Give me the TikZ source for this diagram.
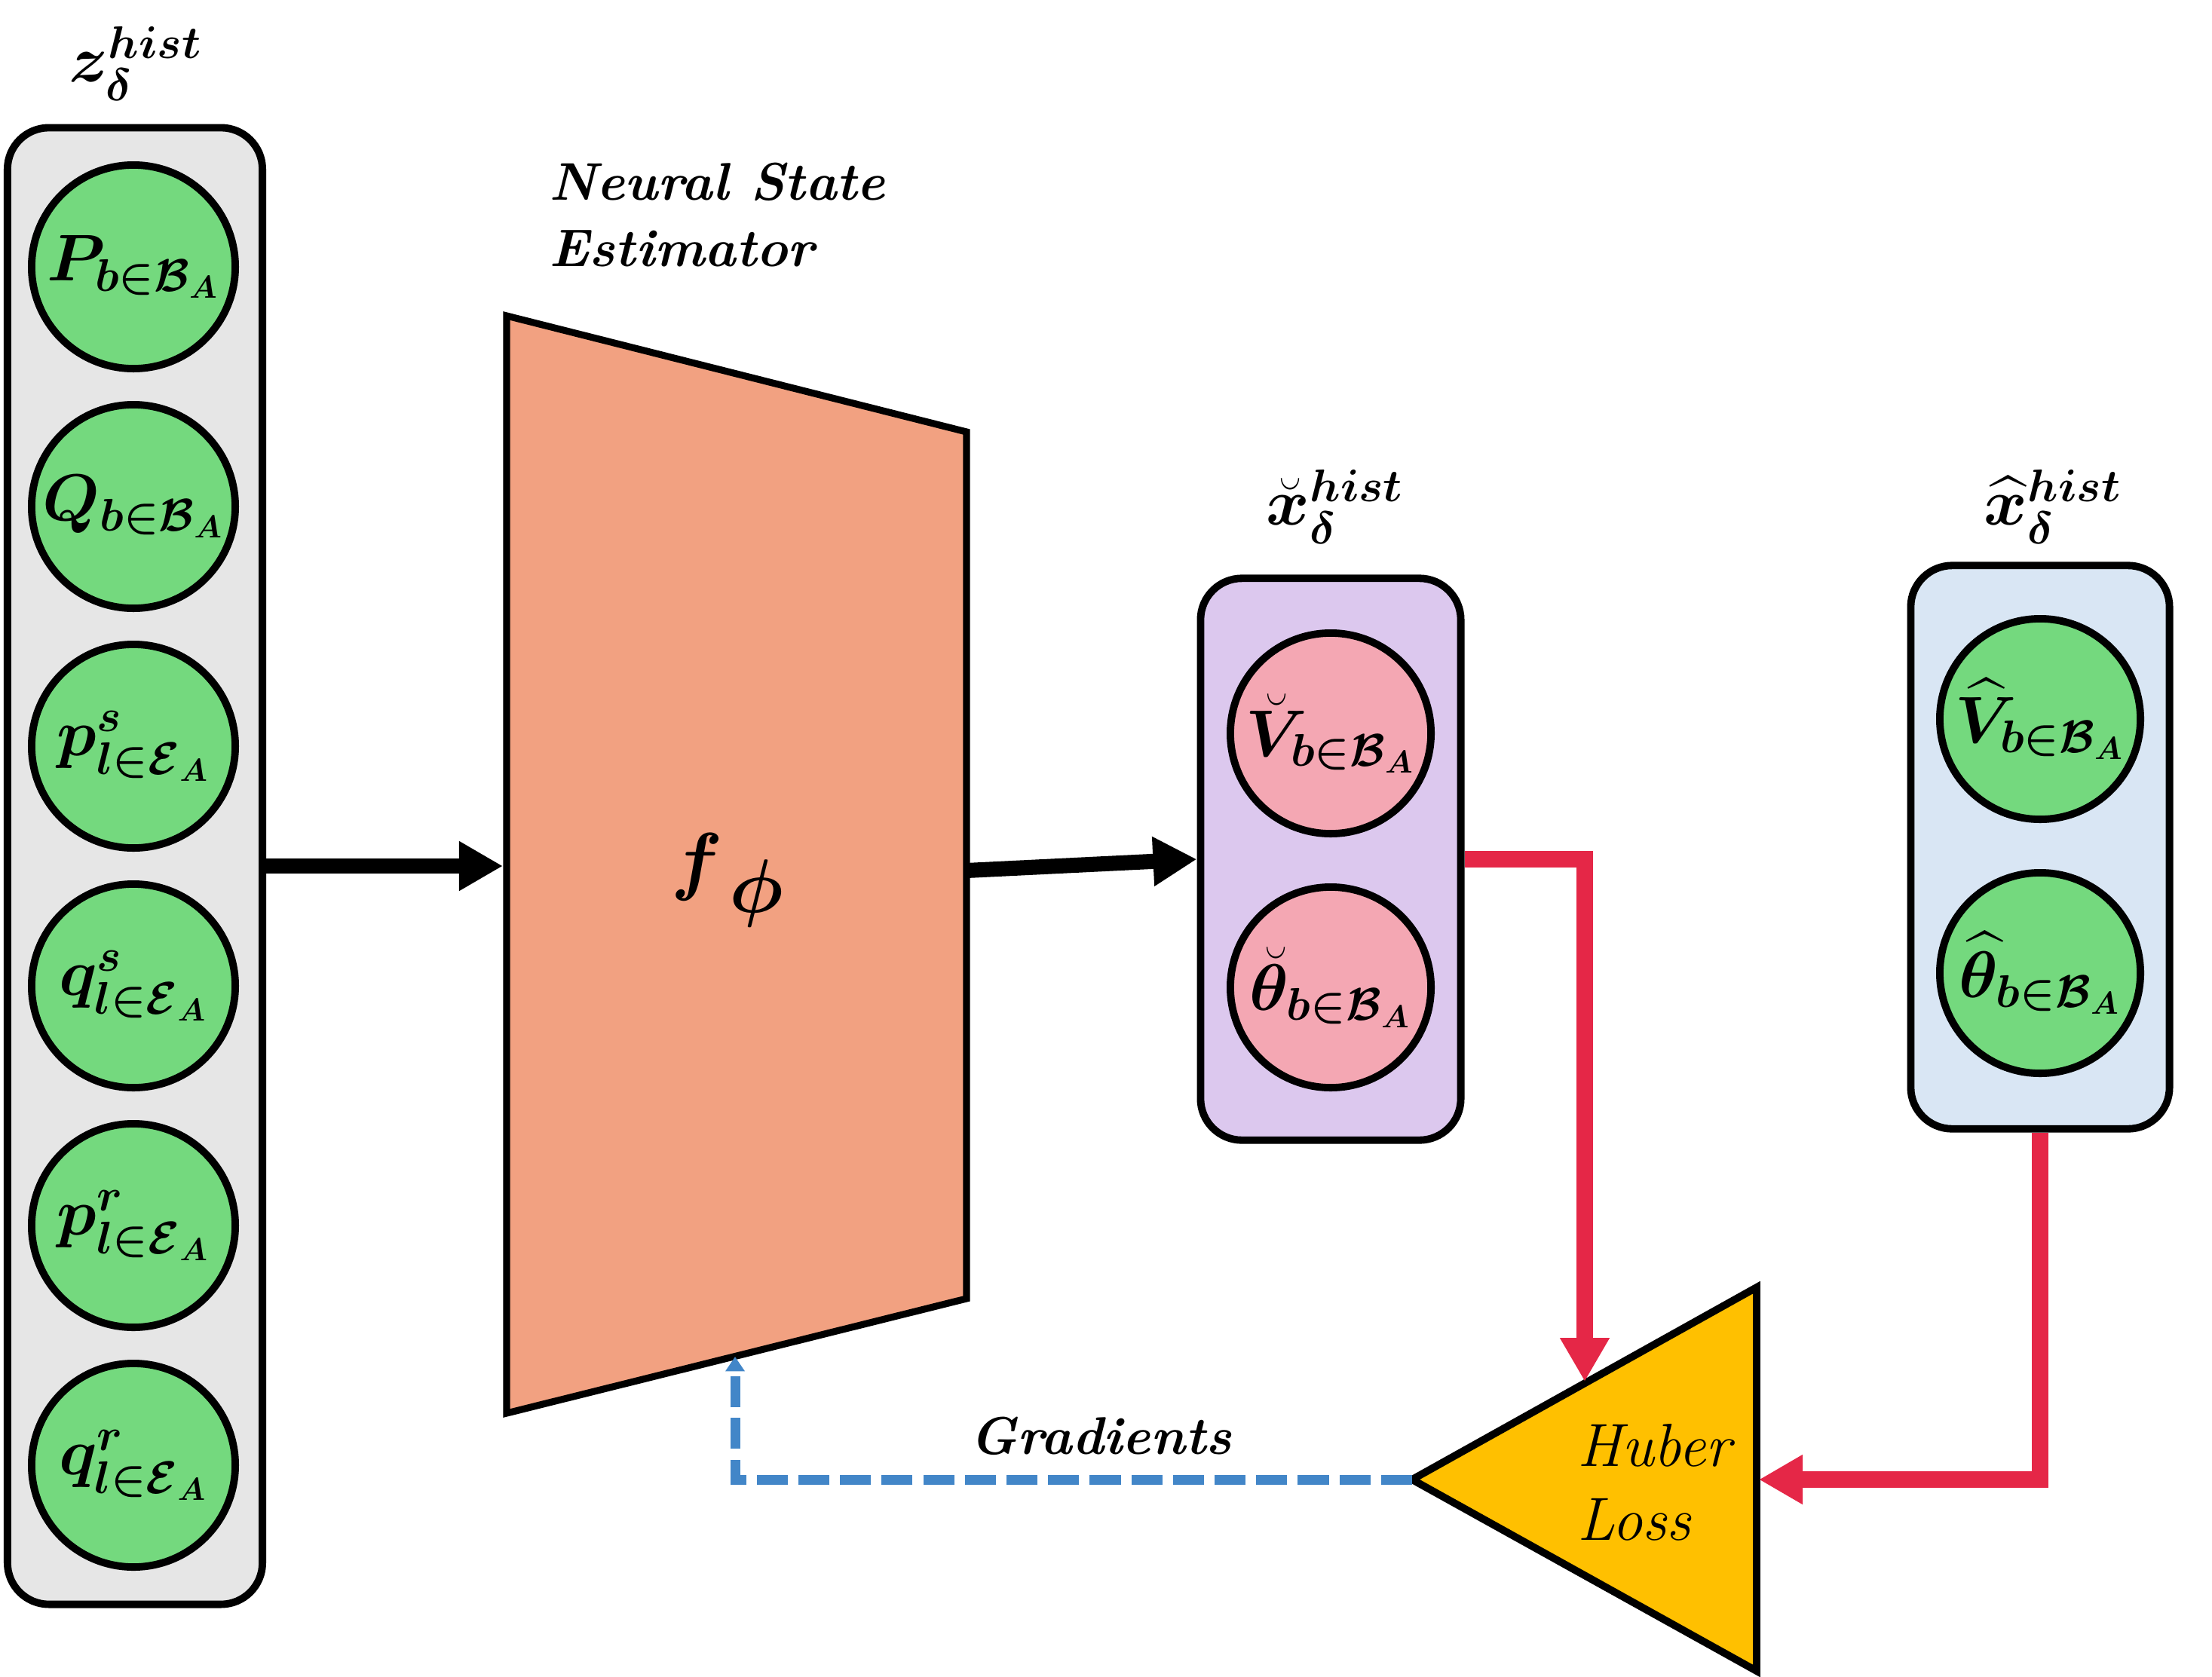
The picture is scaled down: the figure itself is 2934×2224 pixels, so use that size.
\documentclass[tikz,border=0pt]{standalone}
\usepackage{amsmath}
\usepackage{bm}
\usetikzlibrary{arrows.meta}
\tikzstyle{panel} = [
    rectangle,
    rounded corners=0.55cm,
    draw=black,
    line width=2.8pt,
    minimum width=3.38cm,
    minimum height=19.58cm,
]
\tikzstyle{zpanel} = [panel, fill=boxgrey]
\tikzstyle{brevepanel} = [panel, fill=boxlilac, minimum width=3.45cm, minimum height=7.45cm]
\tikzstyle{hatpanel} = [panel, fill=boxblue, minimum width=3.43cm, minimum height=7.47cm]
\tikzstyle{varnode} = [
    circle,
    draw=black,
    line width=2.8pt,
    fill=vargreen,
    minimum size=2.7cm,
    inner sep=0pt,
    font=\fontsize{24}{28}\selectfont,
]
\tikzstyle{brevevar} = [varnode, fill=varpink, minimum size=2.66cm]
\tikzstyle{hatvar} = [varnode, minimum size=2.66cm]
\tikzstyle{veclabel} = [font=\fontsize{27}{31}\selectfont]
\tikzstyle{caption} = [align=left, font=\fontsize{20}{25}\selectfont\bfseries\itshape]
\tikzstyle{arrow} = [line width=5.7pt, -{Triangle[length=16.5pt,width=17.6pt]}]
\tikzstyle{lossarrow} = [arrow, draw=lossred, line width=6pt]
\tikzstyle{gradarrow} = [line width=3.7pt, draw=gradblue, dash pattern=on 11.7pt off 4pt,
    -{Triangle[length=5.5pt,width=7pt]}]
\definecolor{boxgrey}{HTML}{E6E6E6}
\definecolor{boxlilac}{HTML}{DCC8EE}
\definecolor{boxblue}{HTML}{D9E6F4}
\definecolor{vargreen}{HTML}{74D97E}
\definecolor{varpink}{HTML}{F4A7B3}
\definecolor{nsecolor}{HTML}{F2A181}
\definecolor{lossyellow}{HTML}{FFC000}
\definecolor{lossred}{HTML}{E52747}
\definecolor{gradblue}{HTML}{4286C8}

\begin{document}
\begin{tikzpicture}[x=0.01cm, y=-0.01cm, line join=miter]
    \useasboundingbox (0,0) rectangle (2934,2224);

    % input history z
    \node (zin) [zpanel] at (179,1149) {};
    \node (zlab) [veclabel] at (180,84) {$\bm{z}_{\bm{\delta}}^{\bm{hist}}$};
    \node (pb) [varnode] at (177,354) {$\bm{P}_{\bm{b\in\mathcal{B}_A}}$};
    \node (qb) [varnode] at (177,672) {$\bm{Q}_{\bm{b\in\mathcal{B}_A}}$};
    \node (ps) [varnode] at (177,990) {$\bm{p}^{\bm{s}}_{\bm{l\in\mathcal{E}_A}}$};
    \node (qs) [varnode] at (177,1308) {$\bm{q}^{\bm{s}}_{\bm{l\in\mathcal{E}_A}}$};
    \node (pr) [varnode] at (177,1626) {$\bm{p}^{\bm{r}}_{\bm{l\in\mathcal{E}_A}}$};
    \node (qr) [varnode] at (177,1944) {$\bm{q}^{\bm{r}}_{\bm{l\in\mathcal{E}_A}}$};

    % neural state estimator
    \draw [fill=nsecolor, line width=2.6pt]
        (672,419) -- (1282,573) -- (1282,1723) -- (672,1875) -- cycle;
    \coordinate (nsein) at (667,1149);
    \coordinate (nseout) at (1282,1155);
    \coordinate (nsefoot) at (975,1800);
    \node (nse) [font=\fontsize{37}{40}\selectfont, scale=1.15] at (966,1168) {$\bm{f_{\,\phi}}$};
    \node (nselab) [caption, anchor=west] at (716,285) {Neural State\\Estimator};

    % estimated state
    \node (xbrv) [brevepanel] at (1765,1140) {};
    \node (xbrvlab) [veclabel] at (1771,672) {$\breve{\bm{x}}_{\bm{\delta}}^{\bm{hist}}$};
    \node (vbrv) [brevevar] at (1765,973) {$\breve{\bm{V}}_{\bm{b\in\mathcal{B}_A}}$};
    \node (tbrv) [brevevar] at (1765,1310) {$\breve{\bm{\theta}}_{\bm{b\in\mathcal{B}_A}}$};

    % reference state
    \node (xhat) [hatpanel] at (2706,1124) {};
    \node (xhatlab) [veclabel] at (2723,672) {$\widehat{\bm{x}}_{\bm{\delta}}^{\bm{hist}}$};
    \node (vhat) [hatvar] at (2706,954) {$\widehat{\bm{V}}_{\bm{b\in\mathcal{B}_A}}$};
    \node (that) [hatvar] at (2706,1291) {$\widehat{\bm{\theta}}_{\bm{b\in\mathcal{B}_A}}$};

    % huber loss
    \draw [fill=lossyellow, line width=2.8pt]
        (1873,1963) -- (2330,1708) -- (2330,2217) -- cycle;
    \coordinate (losstip) at (1873,1963);
    \coordinate (losstop) at (2102,1833);
    \coordinate (lossside) at (2333,1963);
    \node (loss) [anchor=west, align=left, font=\fontsize{23}{28}\selectfont\itshape]
        at (2080,1967) {Huber\\Loss};

    \path [arrow]
        (zin.east) edge (nsein)
        (nseout) edge (xbrv.west);
    \draw [lossarrow] (xbrv.east) -| (losstop);
    \draw [lossarrow] (xhat.south) |- (lossside);
    \draw [gradarrow] (losstip) -| (nsefoot);
    \node (grad) [caption] at (1460,1905) {Gradients};
\end{tikzpicture}
\end{document}
